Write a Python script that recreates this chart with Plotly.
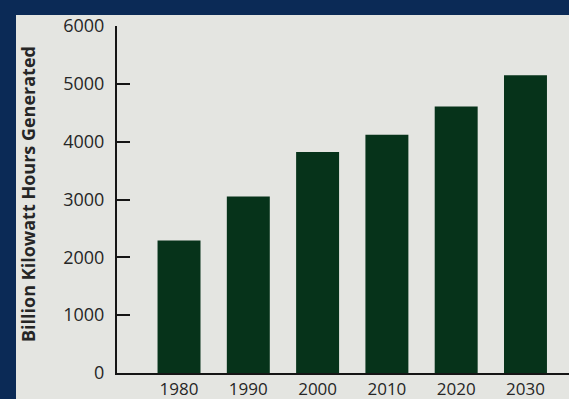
import plotly.graph_objects as go

# Electricity generation by decade (billion kWh)
years = ["1980", "1990", "2000", "2010", "2020", "2030"]
generation = [2290, 3050, 3820, 4120, 4610, 5150]
y_ticks = [0, 1000, 2000, 3000, 4000, 5000, 6000]
y_title = "Billion Kilowatt Hours Generated"

NAVY = "#0b2a56"
PANEL = "#e4e5e1"
BAR = "#06331a"
INK = "#262626"
AXIS = "#151515"
FONT = "Open Sans"

# plot-area geometry in pixels
W, H = 569, 399
L, R, T, B = 117, 0, 26, 26
PW, PH = W - L - R, H - T - B

fig = go.Figure(
    go.Bar(
        x=years,
        y=generation,
        marker=dict(color=BAR, line=dict(width=0)),
        hoverinfo="x+y",
    )
)

fig.update_layout(
    width=W,
    height=H,
    margin=dict(l=L, r=R, t=T, b=B, autoexpand=False),
    paper_bgcolor=NAVY,
    plot_bgcolor=PANEL,
    bargap=0.38,
    showlegend=False,
    font=dict(family=FONT, color=INK),
    shapes=[
        # light panel inside the navy frame
        dict(
            type="rect", xref="paper", yref="paper",
            x0=(16 - L) / PW, x1=1.0, y0=-B / PH, y1=1 + (T - 15) / PH,
            fillcolor=PANEL, line=dict(width=0), layer="below",
        )
    ],
    annotations=[
        # vertical axis title
        dict(
            text=f"<b>{y_title}</b>",
            textangle=-90,
            xref="paper", yref="paper",
            x=(27.5 - L) / PW, y=(T + PH - 194.5) / PH,
            xanchor="center", yanchor="middle",
            showarrow=False,
            font=dict(family=FONT, size=18, color=INK),
        )
    ],
)

fig.update_xaxes(
    type="category",
    range=[-0.895, 5.628],
    automargin=False,
    showline=True,
    linecolor=AXIS,
    linewidth=2,
    ticks="",
    showgrid=False,
    ticklabelstandoff=0,
    tickfont=dict(family=FONT, size=17, color=INK),
    fixedrange=True,
)

fig.update_yaxes(
    range=[0, 6000],
    automargin=False,
    tickvals=y_ticks,
    ticktext=[str(v) for v in y_ticks],
    showline=True,
    linecolor=AXIS,
    linewidth=2,
    ticks="inside",
    ticklen=13,
    tickwidth=2,
    tickcolor=AXIS,
    showgrid=False,
    zeroline=False,
    ticklabelstandoff=7,
    tickfont=dict(family=FONT, size=18, color=INK),
    fixedrange=True,
)

fig.write_html("out.html")
